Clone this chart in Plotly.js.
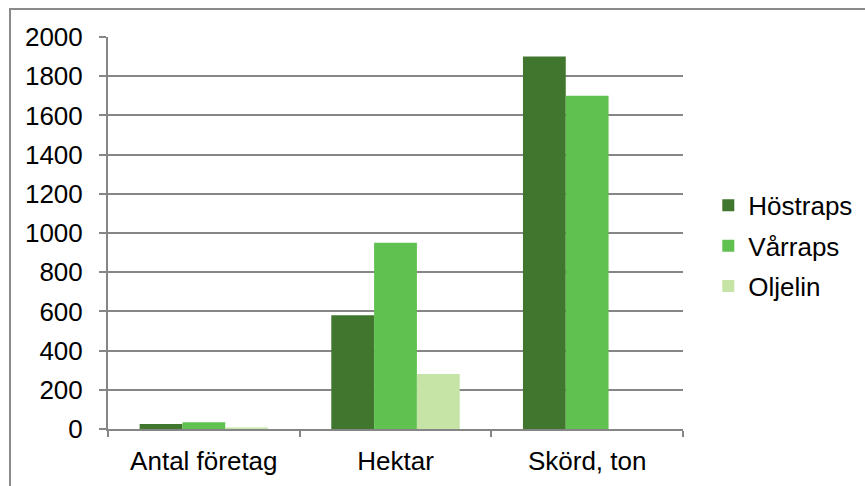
<!DOCTYPE html>
<html>
<head>
<meta charset="utf-8">
<script src="https://cdn.plot.ly/plotly-3.0.1.min.js"></script>
<style>
  html, body { margin: 0; padding: 0; background: #fff; }
  #wrap { position: relative; width: 865px; height: 486px; overflow: hidden; }
  #chart { position: absolute; left: 0; top: 0; width: 865px; height: 486px; }
  #frame { position: absolute; left: 9px; top: 8px; width: 900px; height: 600px;
           border-left: 2px solid #8a8a8a; border-top: 2px solid #8a8a8a; pointer-events: none; }
</style>
</head>
<body>
<div id="wrap">
  <div id="chart"></div>
  <div id="frame"></div>
</div>
<script>
const categories = ["Antal företag", "Hektar", "Skörd, ton"];
const hostraps = [25, 580, 1900];
const varraps = [35, 950, 1700];
const oljelin = [8, 280, 0];
const seriesNames = ["Höstraps", "Vårraps", "Oljelin"];
const seriesColors = ["#41762f", "#60c151", "#c6e4a6"];
const yTicks = [0, 200, 400, 600, 800, 1000, 1200, 1400, 1600, 1800, 2000];

const seriesValues = [hostraps, varraps, oljelin];
const traces = seriesValues.map((vals, i) => ({
  type: "bar",
  name: seriesNames[i],
  x: categories,
  y: vals,
  marker: { color: seriesColors[i], line: { width: 0 } },
  legendgroup: "g" + i,
  hoverinfo: "x+y+name"
}));

const layout = {
  width: 865,
  height: 486,
  margin: { l: 108, r: 182, t: 37, b: 57, autoexpand: false },
  paper_bgcolor: "#ffffff",
  plot_bgcolor: "#ffffff",
  font: { family: "Liberation Sans, Arial, sans-serif", size: 26, color: "#000" },
  barmode: "group",
  bargap: 0.33,
  bargroupgap: 0,
  showlegend: true,
  legend: {
    x: 1.044, xanchor: "left",
    y: 0.467, yanchor: "middle",
    font: { size: 26, color: "#000" },
    tracegroupgap: 3.5,
    bgcolor: "rgba(0,0,0,0)"
  },
  xaxis: {
    type: "category",
    showline: true, linecolor: "#868686", linewidth: 2,
    ticks: "outside", tickson: "boundaries", ticklen: 6, tickcolor: "#868686", tickwidth: 2,
    showgrid: false,
    tickfont: { size: 26 },
    ticklabelstandoff: 8,
    fixedrange: true
  },
  yaxis: {
    range: [0, 2000],
    tickvals: yTicks,
    ticktext: yTicks.map(String),
    showline: true, linecolor: "#868686", linewidth: 2,
    ticks: "outside", ticklen: 7, tickcolor: "#868686", tickwidth: 2,
    showgrid: true, gridcolor: "#868686", gridwidth: 2,
    zeroline: false,
    tickfont: { size: 26 },
    ticklabelstandoff: 11,
    fixedrange: true
  },
  annotations: [{
    text: "<b>ton.</b>",
    xref: "paper", yref: "paper",
    x: -0.17, y: 1.094,
    xanchor: "left", yanchor: "bottom",
    showarrow: false,
    font: { family: "Liberation Serif, Times New Roman, serif", size: 16, color: "#000" }
  }]
};

Plotly.newPlot("chart", traces, layout, { displayModeBar: false, staticPlot: true });
</script>
</body>
</html>
